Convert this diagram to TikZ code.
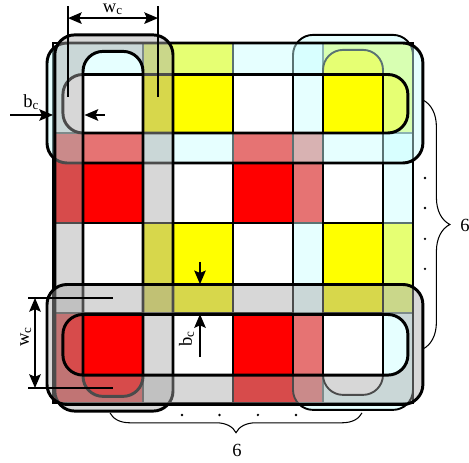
\documentclass[tikz,border=0pt]{standalone}
\usepackage{fontspec}
\setmainfont{Liberation Serif}
\usepackage{tikz}
\usetikzlibrary{arrows.meta,decorations.pathreplacing,calc}
\definecolor{ink}       {HTML}{000000}
\definecolor{cellyellow}{HTML}{FFFF00}
\definecolor{cellred}   {HTML}{FF0000}
\definecolor{coilcyan}  {HTML}{C8FFFF}
\definecolor{coilgray}  {HTML}{A8A8A8}
\tikzset{
  >={Stealth[length=6.5pt,width=5.5pt,inset=1.2pt]},
  every node/.style={font=\fontsize{8.8}{10}\selectfont},
  % --- cells
  cell/.style     = {draw=ink, line width=0.8pt},
  % --- coils
  coil/.style     = {even odd rule, rounded corners=9.5pt, draw=ink, line width=1.4pt,
                     fill opacity=0.45},
  cyancoil/.style = {coil, fill=coilcyan},
  graycoil/.style = {coil, fill=coilgray},
  % --- dimensions
  dimline/.style  = {draw=ink, line width=0.5pt},
  dimarrow/.style = {->, draw=ink, line width=0.6pt},
  dimboth/.style  = {<->, draw=ink, line width=0.6pt},
  lbl/.style      = {inner sep=1.5pt},
  sizebrace/.style= {decorate, decoration={brace, amplitude=#1}, draw=ink, line width=0.5pt},
  dot/.style      = {fill=ink},
}

\begin{document}
\begin{tikzpicture}[x=0.5cm,y=0.5cm]
  \useasboundingbox (-1.767,-2) rectangle (13.867,13.433);

  % --- cells
  \foreach \i in {0,...,3}
    \foreach \j in {0,...,3}
      \fill[white] (3*\i,3*\j) rectangle ++(3,3);
  \foreach \i/\j in {1/3,3/3,1/1,3/1}
    \fill[cellyellow] (3*\i,3*\j) rectangle ++(3,3);
  \foreach \i/\j in {0/2,2/2,0/0,2/0}
    \fill[cellred] (3*\i,3*\j) rectangle ++(3,3);
  \foreach \i in {0,...,3}
    \foreach \j in {0,...,3}
      \draw[cell] (3*\i,3*\j) rectangle ++(3,3);

  % --- coils, back to front
  \path[cyancoil, line width=0.9pt] (8,-0.23) rectangle (12,12.27) (9,0.27) rectangle (11,11.77);
  \path[cyancoil] (-0.2,8) rectangle (12.33,12) (0.33,9) rectangle (11.83,10.95);
  \path[graycoil] (0.06,-0.27) rectangle (4,12.27) (1,0.22) rectangle (3,11.72);
  \path[graycoil] (-0.2,-0.05) rectangle (12.33,3.95) (0.33,0.93) rectangle (11.83,2.95);

  % --- w_c on top
  \coordinate (wctop1) at (0.5,13.23);
  \coordinate (wcbot1) at (0.5,10.2);
  \coordinate (wctop2) at (3.5,13.23);
  \coordinate (wcbot2) at (3.5,10.2);
  \coordinate (wca) at (0.5,12.83);
  \coordinate (wcb) at (3.5,12.83);
  \draw[dimline] (wctop1) -- (wcbot1);
  \draw[dimline] (wctop2) -- (wcbot2);
  \draw[dimboth] (wca) -- node[lbl, above] (wctext) {w\textsubscript{c}} (wcb);

  % --- b_c on the left
  \coordinate (bcl0) at (-1.43,9.6);
  \coordinate (bcl1) at (0,9.6);
  \coordinate (bcr0) at (1.73,9.6);
  \coordinate (bcr1) at (1.05,9.6);
  \draw[dimarrow] (bcl0) -- (bcl1);
  \draw[dimarrow] (bcr0) -- (bcr1);
  \node[lbl] (bctext) at (-0.72,10.02) {b\textsubscript{c}};

  % --- w_c on the left, upright
  \coordinate (whi0) at (-0.83,3.5);
  \coordinate (whi1) at (2.0,3.5);
  \coordinate (wlo0) at (-0.83,0.5);
  \coordinate (wlo1) at (2.0,0.5);
  \coordinate (wva) at (-0.6,3.5);
  \coordinate (wvb) at (-0.6,0.5);
  \draw[dimline] (whi0) -- (whi1);
  \draw[dimline] (wlo0) -- (wlo1);
  \draw[dimboth] (wva) -- node[lbl, above, rotate=90, pos=0.43] (wvtext) {w\textsubscript{c}} (wvb);

  % --- b_c in the middle
  \coordinate (bmd0) at (4.9,4.7);
  \coordinate (bmd1) at (4.9,3.96);
  \coordinate (bmu0) at (4.9,1.53);
  \coordinate (bmu1) at (4.9,2.96);
  \draw[dimarrow] (bmd0) -- (bmd1);
  \draw[dimarrow] (bmu0) -- (bmu1);
  \node[lbl, rotate=90] (bmtext) at (4.45,2.15) {b\textsubscript{c}};

  % --- counts
  \coordinate (brt) at (12.33,10.1);
  \coordinate (brb) at (12.33,1.8);
  \draw[sizebrace=0.45cm] (brt) -- (brb);
  \node (sixright) at (13.73,5.93) {6};
  \coordinate (bbr) at (10.3,-0.33);
  \coordinate (bbl) at (1.9,-0.33);
  \draw[sizebrace=0.33cm] (bbr) -- (bbl);
  \node (sixbottom) at (6.13,-1.57) {6};
  \foreach \y in {7.5,6.5,5.47,4.47}
    \fill[dot] (12.4,\y) circle (0.045);
  \foreach \x in {4.3,5.55,6.83,8.1}
    \fill[dot] (\x,-0.4) circle (0.045);
\end{tikzpicture}
\end{document}
